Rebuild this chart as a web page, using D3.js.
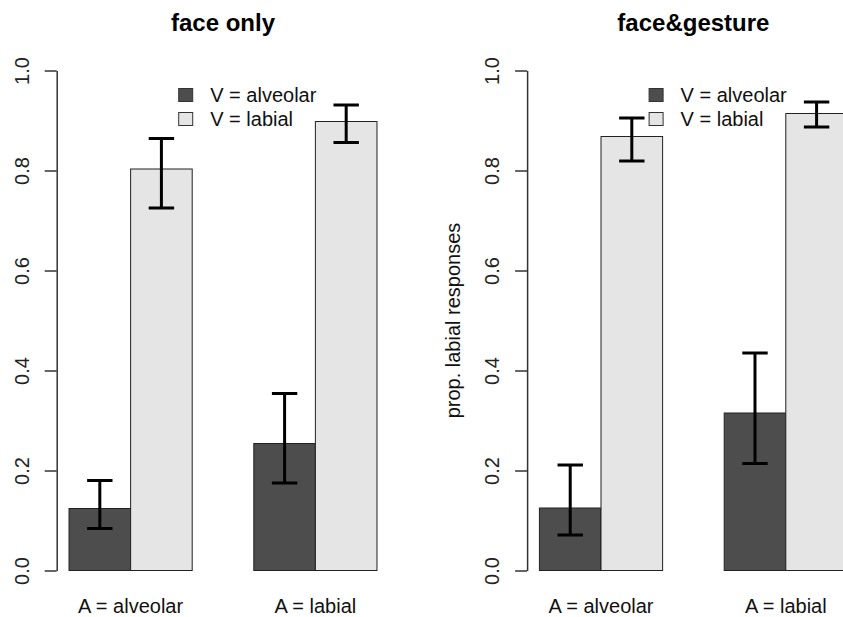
<!DOCTYPE html>
<html>
<head>
<meta charset="utf-8">
<script src="https://cdn.jsdelivr.net/npm/d3@7"></script>
<style>
  body { margin: 0; background: #fff; }
  svg { display: block; font-family: "Liberation Sans", Arial, Helvetica, sans-serif; }
</style>
</head>
<body>
<svg id="chart" width="843" height="617"></svg>
<script>
// panels, groups and series
var panels = ["face only", "face&gesture"];
var groups = ["A = alveolar", "A = labial"];
var series = ["V = alveolar", "V = labial"];
var yTicks = [0, 0.2, 0.4, 0.6, 0.8, 1.0];

// means [group][series] per panel
var faceOnlyMean = [[0.124, 0.803], [0.254, 0.898]];
var faceOnlyLow = [[0.084, 0.725], [0.175, 0.856]];
var faceOnlyHigh = [[0.180, 0.864], [0.354, 0.931]];

var gestureMean = [[0.125, 0.868], [0.315, 0.914]];
var gestureLow = [[0.071, 0.819], [0.214, 0.887]];
var gestureHigh = [[0.211, 0.905], [0.435, 0.937]];

var panelMeans = [faceOnlyMean, gestureMean];
var panelLows = [faceOnlyLow, gestureLow];
var panelHighs = [faceOnlyHigh, gestureHigh];

var fills = ["#4d4d4d", "#e5e5e5"];
var panelShift = 470.4;

var svg = d3.select("#chart");

// R barplot units: bars at 1..3 and 4..6, plot region 0.8..6.2
var x = d3.scaleLinear().domain([0.8, 6.2]).range([56.7, 389.3]);
var y = d3.scaleLinear().domain([0, 1]).range([570.5, 70.5]);

function barLeft(g, s) {
    return 1 + g * 3 + s;
}

panels.forEach(function(title, p) {
    var g = svg.append("g").attr("transform", "translate(" + (p * panelShift) + ",0)");

    var rows = [];
    groups.forEach(function(gr, gi) {
        series.forEach(function(se, si) {
            rows.push({
                g: gi, s: si,
                mean: panelMeans[p][gi][si],
                low: panelLows[p][gi][si],
                high: panelHighs[p][gi][si]
            });
        });
    });

    // bars
    g.selectAll("rect.bar").data(rows).enter().append("rect")
        .attr("class", "bar")
        .attr("x", function(d) { return x(barLeft(d.g, d.s)); })
        .attr("width", function(d) { return x(barLeft(d.g, d.s) + 1) - x(barLeft(d.g, d.s)); })
        .attr("y", function(d) { return y(d.mean); })
        .attr("height", function(d) { return y(0) - y(d.mean); })
        .attr("fill", function(d) { return fills[d.s]; })
        .attr("stroke", "#222")
        .attr("stroke-width", 1);

    // error bars
    var capHalf = 12.7;
    var err = g.selectAll("g.err").data(rows).enter().append("g")
        .attr("class", "err")
        .attr("stroke", "#000")
        .attr("stroke-width", 3);
    err.append("line")
        .attr("x1", function(d) { return x(barLeft(d.g, d.s) + 0.5); })
        .attr("x2", function(d) { return x(barLeft(d.g, d.s) + 0.5); })
        .attr("y1", function(d) { return y(d.low); })
        .attr("y2", function(d) { return y(d.high); });
    err.append("line")
        .attr("x1", function(d) { return x(barLeft(d.g, d.s) + 0.5) - capHalf; })
        .attr("x2", function(d) { return x(barLeft(d.g, d.s) + 0.5) + capHalf; })
        .attr("y1", function(d) { return y(d.high); })
        .attr("y2", function(d) { return y(d.high); });
    err.append("line")
        .attr("x1", function(d) { return x(barLeft(d.g, d.s) + 0.5) - capHalf; })
        .attr("x2", function(d) { return x(barLeft(d.g, d.s) + 0.5) + capHalf; })
        .attr("y1", function(d) { return y(d.low); })
        .attr("y2", function(d) { return y(d.low); });

    // y axis
    var axis = g.append("g")
        .attr("transform", "translate(" + x(0.8) + ",0)")
        .call(d3.axisLeft(y).tickValues(yTicks).tickFormat(d3.format(".1f"))
            .tickSize(12).tickSizeOuter(0));
    axis.select(".domain").attr("stroke", "#333").attr("stroke-width", 1.5);
    axis.selectAll(".tick line").attr("stroke", "#333").attr("stroke-width", 1.5);
    axis.selectAll(".tick text")
        .attr("x", null).attr("dy", null)
        .attr("transform", "translate(-28,0) rotate(-90)")
        .attr("text-anchor", "middle")
        .attr("font-size", 20)
        .attr("font-family", "Liberation Sans, Arial, sans-serif")
        .attr("fill", "#222");

    // group labels
    g.selectAll("text.grp").data(groups).enter().append("text")
        .attr("class", "grp")
        .attr("x", function(d, i) { return x(2 + i * 3); })
        .attr("y", 613)
        .attr("text-anchor", "middle")
        .attr("font-size", 20)
        .attr("fill", "#111")
        .text(function(d) { return d; });

    // title
    g.append("text")
        .attr("x", (x(0.8) + x(6.2)) / 2)
        .attr("y", 30.5)
        .attr("text-anchor", "middle")
        .attr("font-size", 24)
        .attr("font-weight", "bold")
        .attr("fill", "#000")
        .text(title);

    // legend
    var lx = x(0.8) + 122;
    var leg = g.selectAll("g.leg").data(series).enter().append("g")
        .attr("class", "leg")
        .attr("transform", function(d, i) { return "translate(" + lx + "," + (95 + i * 24) + ")"; });
    leg.append("rect")
        .attr("x", 0).attr("y", -6.5)
        .attr("width", 14).attr("height", 13)
        .attr("fill", function(d, i) { return fills[i]; })
        .attr("stroke", "#333").attr("stroke-width", 1);
    leg.append("text")
        .attr("x", 31.5).attr("y", 7)
        .attr("font-size", 20)
        .attr("fill", "#111")
        .text(function(d) { return d; });

    // y label only on the second panel
    if (p === 1) {
        g.append("text")
            .attr("transform", "translate(" + (x(0.8) - 67.5) + "," + y(0.5) + ") rotate(-90)")
            .attr("text-anchor", "middle")
            .attr("font-size", 20)
            .attr("fill", "#111")
            .text("prop. labial responses");
    }
});
</script>
</body>
</html>
